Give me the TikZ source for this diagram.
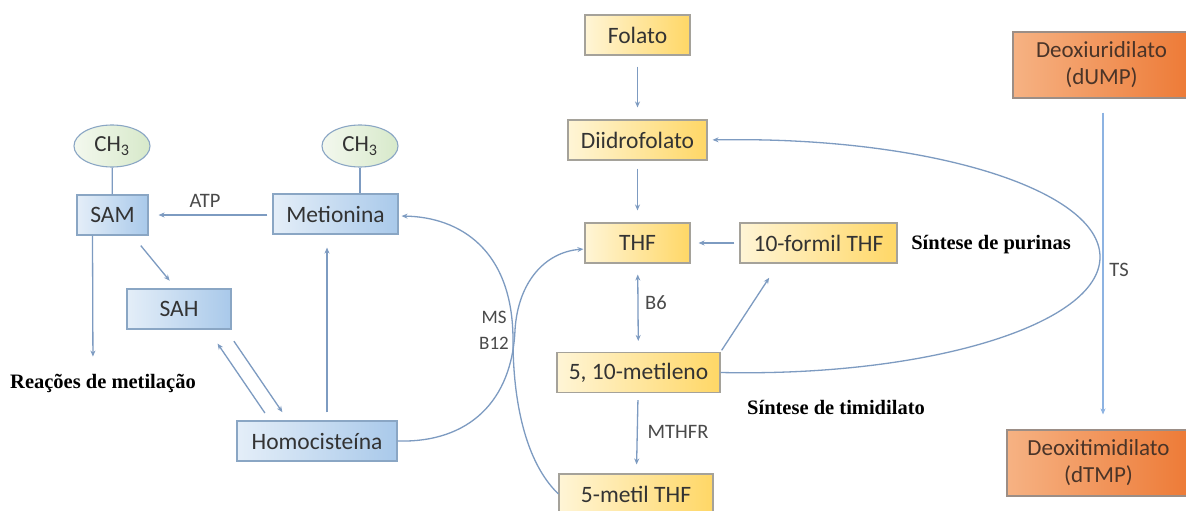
\documentclass[tikz,border=0pt]{standalone}
\usepackage{fontspec}
\setmainfont{Carlito}
\newfontfamily\serifb{Liberation Serif}
\usetikzlibrary{arrows.meta,calc,shapes.geometric}
\definecolor{ln}{HTML}{7D9BC1}
\definecolor{tsl}{HTML}{8DB3E2}
\definecolor{bbord}{HTML}{8AA6C4}
\definecolor{blueL}{HTML}{E4EEF8}
\definecolor{blueR}{HTML}{A9C9EA}
\definecolor{yelL}{HTML}{FFF5D6}
\definecolor{yelR}{HTML}{FFD766}
\definecolor{ybord}{HTML}{A5A29A}
\definecolor{orL}{HTML}{F6B283}
\definecolor{orR}{HTML}{ED7A36}
\definecolor{obord}{HTML}{9C8E86}
\definecolor{grL}{HTML}{F3F8EE}
\definecolor{grR}{HTML}{D7E9CA}
\definecolor{txt}{HTML}{333333}
\definecolor{otxt}{HTML}{4A3428}
\definecolor{lbl}{HTML}{4A4A4A}
\tikzset{
  boxbase/.style={inner sep=0pt, minimum height=40pt, text=txt, line width=1.1pt,
    font=\fontsize{23.5}{26}\selectfont},
  bluebox/.style={boxbase, draw=bbord, left color=blueL, right color=blueR},
  yelbox/.style={boxbase, draw=ybord, left color=yelL, right color=yelR},
  orbox/.style={boxbase, draw=obord, left color=orL, right color=orR, minimum height=66pt,
    align=center, text=otxt, font=\fontsize{23}{27}\selectfont},
  methyl/.style={ellipse, draw=bbord, line width=1.1pt, left color=grL, right color=grR,
    minimum width=76pt, minimum height=42pt, inner sep=0pt, text=txt,
    font=\fontsize{23}{26}\selectfont},
  smalllbl/.style={text=lbl, inner sep=0pt, font=\fontsize{20.5}{24}\selectfont},
  seriflbl/.style={text=black, inner sep=0pt, font=\serifb\bfseries\fontsize{20.5}{24}\selectfont},
  arr/.style={draw=ln, line width=1.3pt, -{Stealth[length=6pt,width=5pt]}},
  plain/.style={draw=ln, line width=1.3pt}
}
\begin{document}
\begin{tikzpicture}[x=1pt,y=-1pt]
\useasboundingbox (0,0) rectangle (1186,511);
\clip (0,0) rectangle (1186,511);
\fill[white] (0,0) rectangle (1186,511);

% left (methionine cycle)
\node[methyl] (ch3a) at (112,146) {CH\textsubscript{3}};
\node[methyl] (ch3b) at (360,146) {CH\textsubscript{3}};
\node[bluebox, minimum width=71pt] (sam) at (112.5,215) {SAM};
\node[bluebox, minimum width=125pt] (meti) at (335.5,214) {Metionina};
\node[bluebox, minimum width=104pt] (sah) at (179,309) {SAH};
\node[bluebox, minimum width=160pt] (homo) at (317,441) {Homocisteína};
\node[seriflbl] (reac) at (103,383) {Reações de metilação};
\node[smalllbl] (atp) at (205,201) {ATP};
\node[smalllbl, align=center, font=\fontsize{19}{26}\selectfont] (msb) at (494,330) {MS\\B12};

% folate cycle
\node[yelbox, minimum width=105pt] (fol) at (637.5,35) {Folato};
\node[yelbox, minimum width=139pt] (dii) at (637.5,140) {Diidrofolato};
\node[yelbox, minimum width=105pt] (thf) at (637.5,243) {THF};
\node[yelbox, minimum width=157pt] (form) at (818.5,243) {10-formil THF};
\node[yelbox, minimum width=163pt] (mtl) at (638.5,372.5) {5, 10-metileno};
\node[yelbox, minimum width=154pt] (mthf) at (636,494) {5-metil THF};
\node[seriflbl] (pur) at (991,245) {Síntese de purinas};
\node[seriflbl] (tim) at (836,407) {Síntese de timidilato};
\node[smalllbl] (b6) at (656,303) {B6};
\node[smalllbl] (mthfr) at (678,432) {MTHFR};

% thymidylate
\node[orbox, minimum width=177pt] (dump) at (1101.5,65) {Deoxiuridilato\\(dUMP)};
\node[orbox, minimum width=183pt] (dtmp) at (1098.5,463) {Deoxitimidilato\\(dTMP)};
\node[smalllbl] (ts) at (1119,270) {TS};

% connectors: left
\draw[plain] (ch3a) -- (sam);
\draw[plain] (ch3b.south) -- (ch3b.south |- meti.north);
\draw[arr, shorten <=5pt, shorten >=10pt] (meti.west |- sam.east) -- (sam.east);
\coordinate (samL) at ($(sam.south)+(-20,0)$);
\coordinate (reacT) at ($(reac.north)+(-10,0)$);
\draw[arr, shorten >=17pt] (samL) -- (reacT);
\coordinate (samR) at ($(sam.south)+(20,0)$);
\coordinate (sahT) at ($(sah.north)+(-3,0)$);
\draw[arr, shorten <=13pt, shorten >=10pt] (samR) -- (sahT);
\coordinate (hA) at ($(homo.north)+(-47,0)$);
\coordinate (sA) at ($(sah.south)+(29,0)$);
\coordinate (sB) at ($(sah.south)+(47,0)$);
\coordinate (hB) at ($(homo.north)+(-29,0)$);
\draw[arr, shorten <=9pt, shorten >=17pt] (hA) -- (sA);
\draw[arr, shorten <=14pt, shorten >=10pt] (sB) -- (hB);
\coordinate (hC) at ($(homo.north)+(10,0)$);
\draw[arr, shorten <=8pt, shorten >=13pt] (hC) -- (hC |- meti.south);

% crossing curves
\coordinate (cA) at (515,330);
\coordinate (cB) at (513,340);
\coordinate (thfIn) at ($(thf.west)+(0,6)$);
\coordinate (metIn) at ($(meti.east)+(0,2)$);
\draw[arr, shorten >=1pt] (homo.east) .. controls (470,443) and (512,400) .. (cA)
  .. controls (518,282) and (545,252) .. (thfIn);
\draw[arr, shorten >=3pt] (mthf.west) .. controls (525,462) and (513,400) .. (cB)
  .. controls (513,250) and (460,217) .. (metIn);

% folate column
\draw[arr, shorten <=11pt, shorten >=12pt] (fol) -- (dii);
\draw[arr, shorten <=8pt, shorten >=12pt] (dii) -- (thf);
\draw[arr, {Stealth[length=6pt,width=5pt]}-{Stealth[length=6pt,width=5pt]}, shorten <=11pt, shorten >=11pt] (thf) -- (mtl);
\draw[arr, shorten <=7pt, shorten >=9pt] (mtl) -- (mthf);
\draw[arr, shorten <=5pt, shorten >=8pt] (form) -- (thf);
\coordinate (formIn) at ($(form.south west)+(39,0)$);
\draw[arr, shorten <=2pt, shorten >=17pt] (mtl.north east) -- (formIn);

% big loop
\coordinate (loopR) at (1100,257);
\draw[arr, shorten >=5pt] (mtl.east) .. controls (930,377) and (1100,324) .. (loopR)
  .. controls (1100,190) and (930,136) .. (dii.east);

% TS
\coordinate (tsTop) at ($(dump.south)+(1.5,0)$);
\draw[arr, draw=tsl, shorten <=14pt, shorten >=15pt] (tsTop) -- (tsTop |- dtmp.north);
\end{tikzpicture}
\end{document}
